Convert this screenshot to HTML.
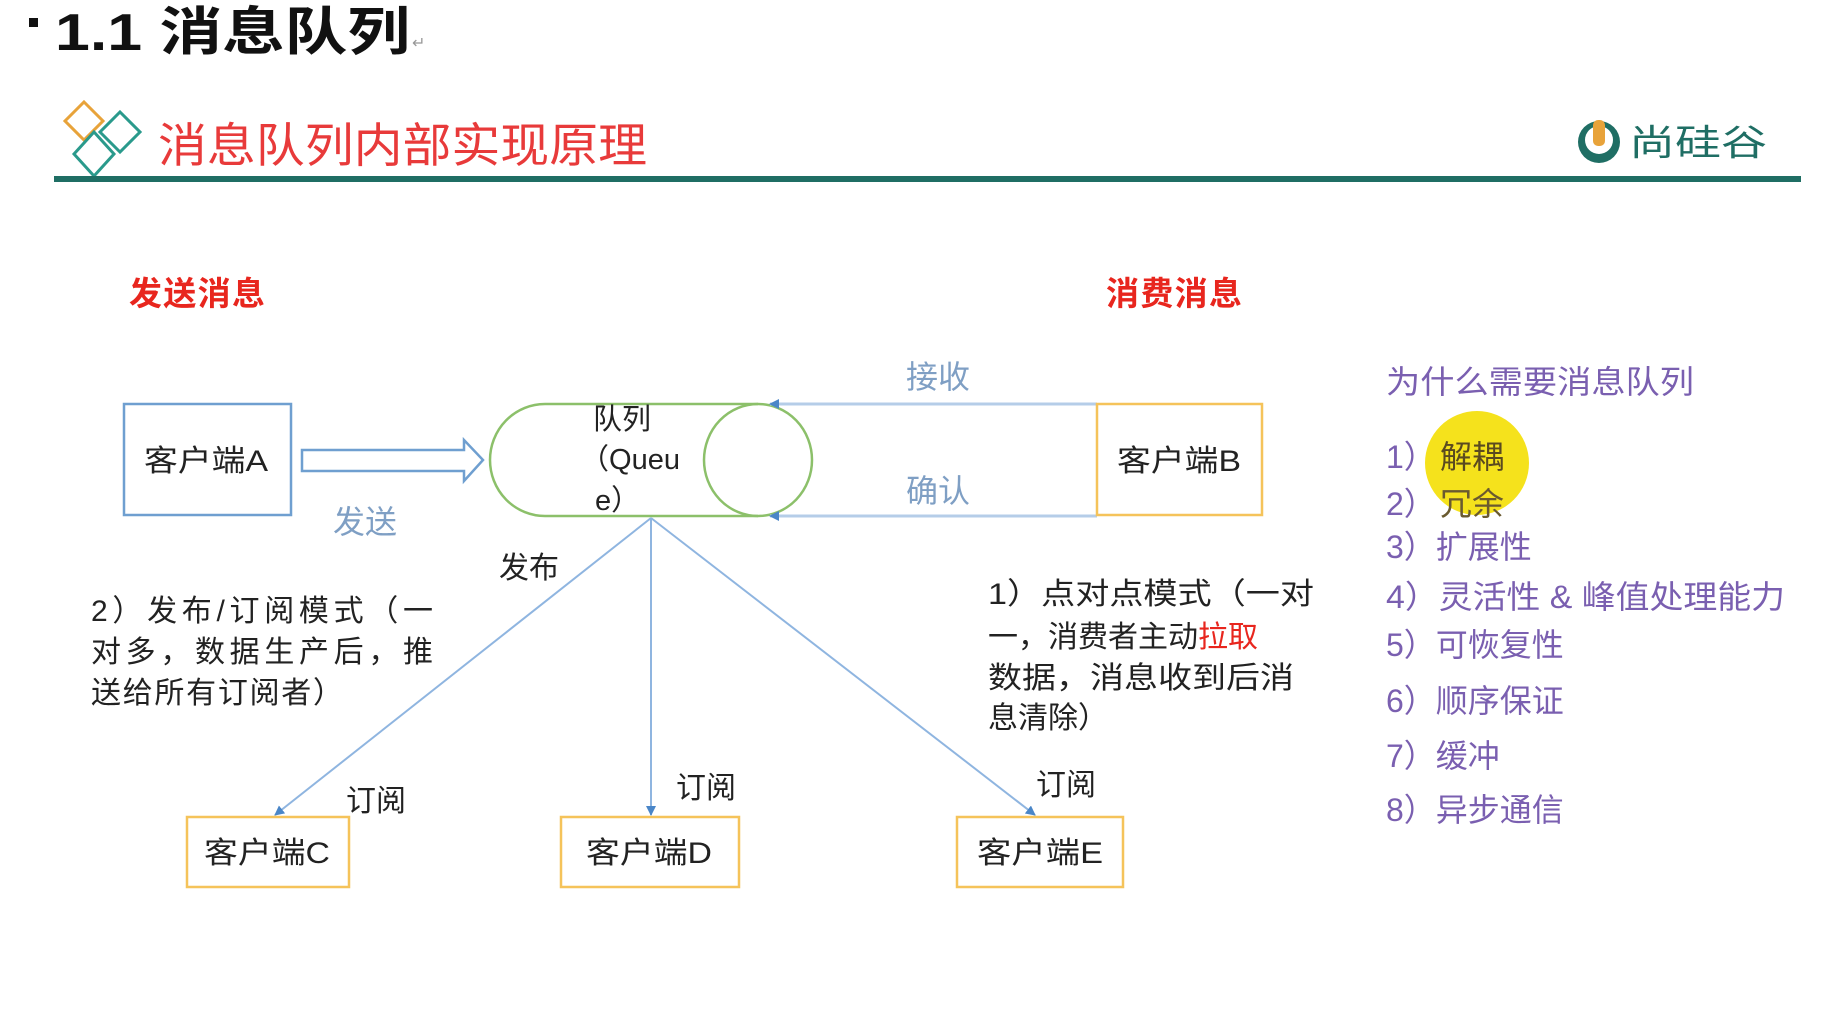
<!DOCTYPE html>
<html><head><meta charset="utf-8"><style>
html,body{margin:0;padding:0;background:#fff;}
svg{display:block}
text{font-family:"Liberation Sans","Noto Sans CJK SC",sans-serif;}
</style></head><body>
<svg width="1828" height="1018" viewBox="0 0 1828 1018" xmlns="http://www.w3.org/2000/svg">
<defs>
<marker id="ab" markerWidth="10" markerHeight="10" refX="9" refY="5" orient="auto" markerUnits="userSpaceOnUse"><path d="M0,0 L10,5 L0,10 z" fill="#4a86c8"/></marker>
</defs>
<rect width="1828" height="1018" fill="#fff"/>
<!-- title -->
<rect x="29" y="18" width="9" height="9" fill="#111"/>
<text x="55" y="50" font-size="52" font-weight="bold" fill="#111" textLength="355" lengthAdjust="spacingAndGlyphs">1.1  消息队列</text>
<text x="412" y="48" font-size="16" fill="#999">↵</text>
<!-- logo diamonds -->
<g fill="none" stroke-width="3">
<path d="M84,102 L103,121 L84,140 L65,121 z" stroke="#e8a33a"/>
<path d="M120,112 L140,132 L120,152 L100,132 z" stroke="#2a9a8c"/>
<path d="M94,132 L114,154 L94,176 L74,154 z" stroke="#2a9a8c"/>
</g>
<text x="158" y="162" font-size="47" fill="#e83a3a" textLength="489" lengthAdjust="spacingAndGlyphs">消息队列内部实现原理</text>
<rect x="54" y="176" width="1747" height="6" fill="#1f6e64"/>
<!-- right logo -->
<circle cx="1599" cy="142" r="21" fill="#1f6e64"/>
<circle cx="1599" cy="140" r="14" fill="#fff"/>
<rect x="1593" y="120" width="12" height="26" rx="5" fill="#e8a33a"/>
<text x="1629" y="155" font-size="36" fill="#1f6e64" textLength="138" lengthAdjust="spacingAndGlyphs">尚硅谷</text>
<!-- section titles -->
<text x="129" y="305" font-size="33" font-weight="bold" fill="#e8261e" textLength="136">发送消息</text>
<text x="1106" y="305" font-size="33" font-weight="bold" fill="#e8261e" textLength="136">消费消息</text>
<!-- client A -->
<rect x="124" y="404" width="167" height="111" fill="none" stroke="#6f9fd0" stroke-width="2.5"/>
<text x="144" y="471" font-size="30" fill="#222" textLength="124" lengthAdjust="spacingAndGlyphs">客户端A</text>
<path d="M302,450 L464,450 L464,440 L483,460 L464,481 L464,471 L302,471 z" fill="none" stroke="#6f9fd0" stroke-width="2.5"/>
<text x="333" y="533" font-size="32" fill="#7f9fc4">发送</text>
<!-- queue -->
<path d="M545,404 L758,404 M545,516 L758,516 M545,404 A55,56 0 0 0 545,516" fill="none" stroke="#8cc06a" stroke-width="2.5"/>
<ellipse cx="758" cy="460" rx="54" ry="56" fill="none" stroke="#8cc06a" stroke-width="2.5"/>
<text x="622" y="429" font-size="29" fill="#222" text-anchor="middle">队列</text>
<text x="630" y="469" font-size="29" fill="#222" text-anchor="middle">（Queu</text>
<text x="595" y="510" font-size="29" fill="#222">e）</text>
<!-- B lines -->
<line x1="1097" y1="404" x2="770" y2="404" stroke="#b5cde8" stroke-width="3" marker-end="url(#ab)"/>
<line x1="1097" y1="516" x2="770" y2="516" stroke="#b5cde8" stroke-width="3" marker-end="url(#ab)"/>
<text x="906" y="388" font-size="32" fill="#7f9fc4">接收</text>
<text x="906" y="502" font-size="32" fill="#7f9fc4">确认</text>
<rect x="1097" y="404" width="165" height="111" fill="none" stroke="#f5c35a" stroke-width="2.5"/>
<text x="1117" y="471" font-size="30" fill="#222" textLength="124" lengthAdjust="spacingAndGlyphs">客户端B</text>
<!-- fan lines -->
<g stroke="#8fb5e0" stroke-width="2">
<line x1="651" y1="518" x2="275" y2="815" marker-end="url(#ab)"/>
<line x1="651" y1="518" x2="651" y2="815" marker-end="url(#ab)"/>
<line x1="651" y1="518" x2="1035" y2="815" marker-end="url(#ab)"/>
</g>
<text x="499" y="578" font-size="30" fill="#222">发布</text>
<text font-size="30" fill="#222" lengthAdjust="spacingAndGlyphs">
<tspan x="91" y="621" textLength="342">2）发布/订阅模式（一</tspan>
<tspan x="91" y="662" textLength="342">对多，数据生产后，推</tspan>
<tspan x="91" y="703" textLength="252">送给所有订阅者）</tspan>
</text>
<text font-size="30" fill="#222">
<tspan x="988" y="604" textLength="326" lengthAdjust="spacingAndGlyphs">1）点对点模式（一对</tspan>
<tspan x="988" y="647">一，消费者主动<tspan fill="#e8261e">拉取</tspan></tspan>
<tspan x="988" y="688" textLength="306" lengthAdjust="spacingAndGlyphs">数据，消息收到后消</tspan>
<tspan x="988" y="728">息清除）</tspan>
</text>
<!-- C D E -->
<rect x="187" y="817" width="162" height="70" fill="none" stroke="#f5c35a" stroke-width="2.5"/>
<text x="204" y="863" font-size="30" fill="#222" textLength="126" lengthAdjust="spacingAndGlyphs">客户端C</text>
<rect x="561" y="817" width="178" height="70" fill="none" stroke="#f5c35a" stroke-width="2.5"/>
<text x="586" y="863" font-size="30" fill="#222" textLength="126" lengthAdjust="spacingAndGlyphs">客户端D</text>
<rect x="957" y="817" width="166" height="70" fill="none" stroke="#f5c35a" stroke-width="2.5"/>
<text x="977" y="863" font-size="30" fill="#222" textLength="126" lengthAdjust="spacingAndGlyphs">客户端E</text>
<text x="346" y="811" font-size="30" fill="#222">订阅</text>
<text x="676" y="798" font-size="30" fill="#222">订阅</text>
<text x="1036" y="795" font-size="30" fill="#222">订阅</text>
<!-- right list -->
<circle cx="1477" cy="463" r="52" fill="#f5e21c"/>
<g font-size="32" fill="#7a5fb0" lengthAdjust="spacingAndGlyphs">
<text x="1386" y="393" textLength="308" lengthAdjust="spacingAndGlyphs">为什么需要消息队列</text>
<text x="1386" y="468">1）</text><text x="1440" y="468" fill="#5a4a20">解耦</text>
<text x="1386" y="515">2）</text><text x="1440" y="515" fill="#6a5a30">冗余</text>
<text x="1386" y="558">3）扩展性</text>
<text x="1386" y="608" textLength="399" lengthAdjust="spacingAndGlyphs">4）灵活性 &amp; 峰值处理能力</text>
<text x="1386" y="656">5）可恢复性</text>
<text x="1386" y="712">6）顺序保证</text>
<text x="1386" y="767">7）缓冲</text>
<text x="1386" y="821">8）异步通信</text>
</g>
</svg>
</body></html>
